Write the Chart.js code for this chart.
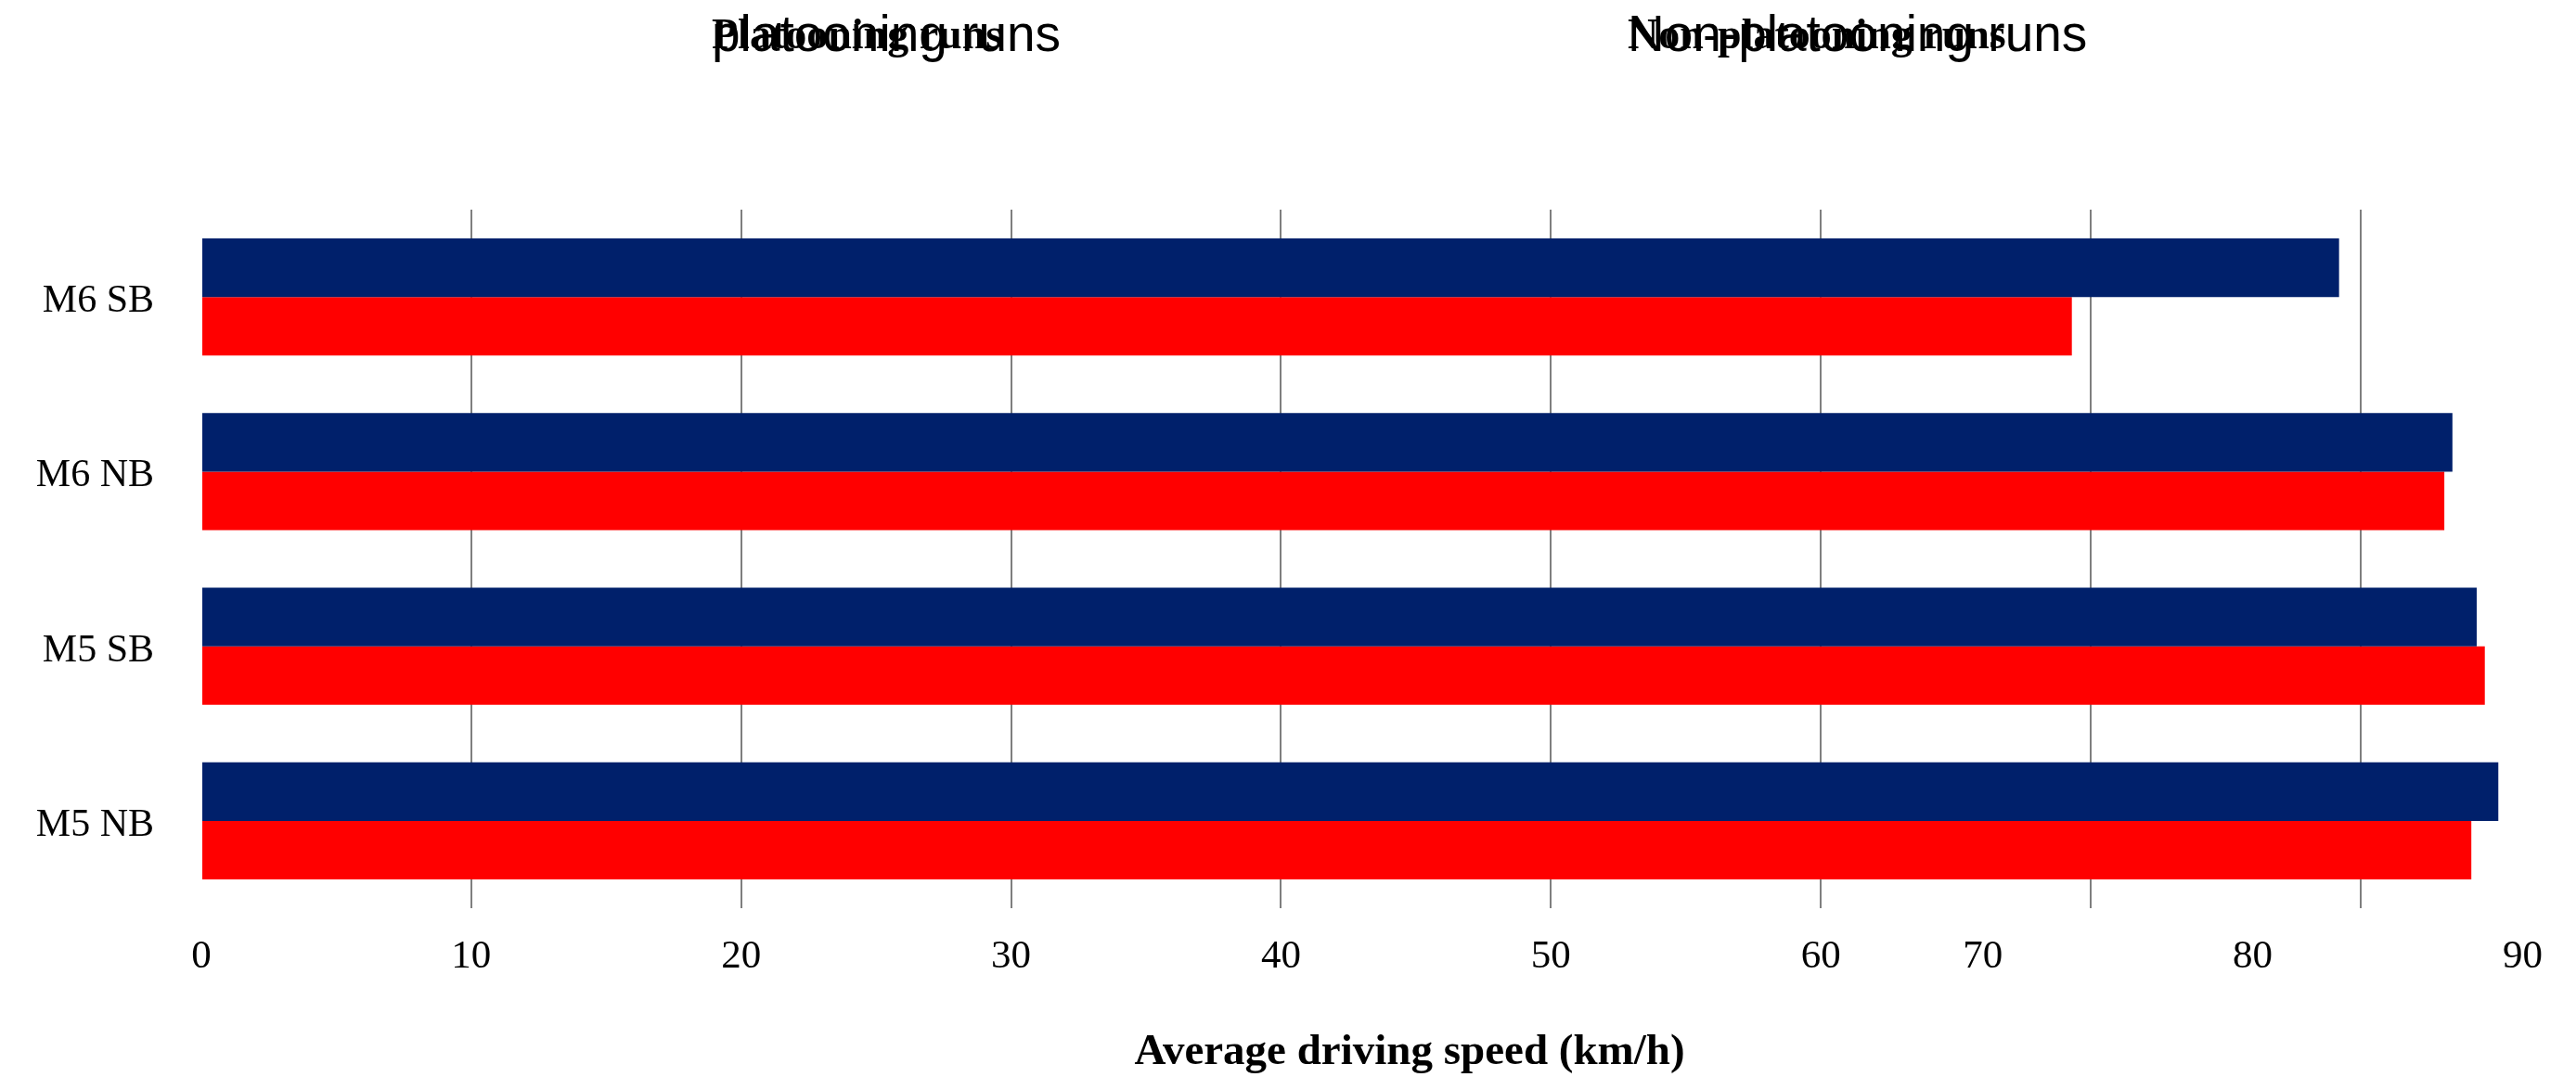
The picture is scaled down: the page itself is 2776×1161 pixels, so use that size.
<!DOCTYPE html>
<html lang="en">
<head>
  <meta charset="UTF-8">
  <title>Average driving speed</title>
  <style>
    body {
      margin: 0;
      background-color: #fff;
    }
    .chart-box {
      width: 2776px;
      height: 1161px;
      position: relative;
    }
  </style>
</head>
<body>

  <div class="chart-box">
    <canvas id="speedChart"></canvas>
  </div>

  <script src="https://cdn.jsdelivr.net/npm/chart.js"></script>
  <script>
    // Data
    const routes = ['M6 SB', 'M6 NB', 'M5 SB', 'M5 NB'];
    const platooning = [79.2, 83.4, 84.3, 85.1];
    const nonPlatooning = [69.3, 83.1, 84.6, 84.1];
    const seriesNames = ['Platooning runs', 'Non-platooning runs'];
    const seriesNamesAlt = ['platooning runs', 'Non-platooning runs'];
    const axisTitle = 'Average driving speed (km/h)';

    // Axis tick labels, and where they sit on the speed scale
    const tickLabels = ['0', '10', '20', '30', '40', '50', '60', '70', '80', '90'];
    const tickValues = [0, 10, 20, 30, 40, 50, 60, 66, 76, 86];

    const serif = "'Liberation Serif', serif";

    // Legend: two overlapping renderings of each name, no colour boxes.
    // Also draws the x axis title, which sits off-centre in the original.
    const textLayer = {
      id: 'textLayer',
      afterDraw(chart, args, opts) {
        const ctx = chart.ctx;
        ctx.save();
        ctx.fillStyle = '#000';
        ctx.textBaseline = 'alphabetic';
        ctx.textAlign = 'left';
        chart.data.datasets.forEach((ds, i) => {
          const x = opts.legendX[i];
          ctx.font = "55px 'Liberation Sans', Arial, sans-serif";
          ctx.fillText(seriesNamesAlt[i], x, opts.sansBaseline);
          ctx.font = "bold 46px " + serif;
          ctx.fillText(ds.label, x, opts.serifBaseline);
        });

        ctx.textAlign = 'center';
        ctx.textBaseline = 'middle';
        ctx.font = "bold 47px " + serif;
        ctx.fillText(axisTitle, opts.titleX, opts.titleY);
        ctx.restore();
      }
    };

    const ctx = document.getElementById('speedChart').getContext('2d');

    new Chart(ctx, {
      type: 'bar',
      data: {
        labels: routes,
        datasets: [{
          label: seriesNames[0],
          data: platooning,
          backgroundColor: '#00206b'
        }, {
          label: seriesNames[1],
          data: nonPlatooning,
          backgroundColor: '#ff0000'
        }]
      },
      options: {
        indexAxis: 'y',
        responsive: true,
        maintainAspectRatio: false,
        animation: false,
        datasets: {
          bar: {
            categoryPercentage: 0.67,
            barPercentage: 1.0
          }
        },
        layout: {
          padding: { top: 226, left: 0, right: 43, bottom: 0 }
        },
        scales: {
          x: {
            type: 'linear',
            position: 'bottom',
            min: 0,
            max: 86.5,
            border: { display: false },
            grid: {
              drawTicks: false,
              lineWidth: 2,
              color: (c) => c.tick && c.tick.value === 0 ? 'rgba(0,0,0,0)' : '#7f7f7f'
            },
            ticks: { display: false, stepSize: 10, includeBounds: false }
          },
          x2: {
            type: 'linear',
            position: 'bottom',
            min: 0,
            max: 86.5,
            border: { display: false },
            grid: { display: false, drawTicks: false },
            afterBuildTicks: (scale) => {
              scale.ticks = tickValues.map(v => ({ value: v }));
            },
            ticks: {
              autoSkip: false,
              maxRotation: 0,
              padding: 27,
              color: '#000',
              font: { family: serif, size: 43 },
              callback: (value, index) => tickLabels[index]
            },
            // keeps the room for the title; the text itself is drawn by textLayer
            title: {
              display: true,
              text: axisTitle,
              color: 'rgba(0,0,0,0)',
              font: { family: serif, size: 47, weight: 'bold' },
              padding: { top: 20, bottom: 0 }
            }
          },
          y: {
            type: 'category',
            border: { display: false },
            grid: { display: false, drawTicks: false },
            afterFit: (scale) => { scale.width = 217; },
            ticks: {
              padding: 51,
              labelOffset: 5,
              color: '#000',
              font: { family: serif, size: 42 }
            }
          }
        },
        plugins: {
          legend: { display: false },
          tooltip: { enabled: false },
          textLayer: {
            legendX: [767, 1754],
            serifBaseline: 52,
            sansBaseline: 55,
            titleX: 1519,
            titleY: 1135
          }
        }
      },
      plugins: [textLayer]
    });
  </script>

</body>
</html>
